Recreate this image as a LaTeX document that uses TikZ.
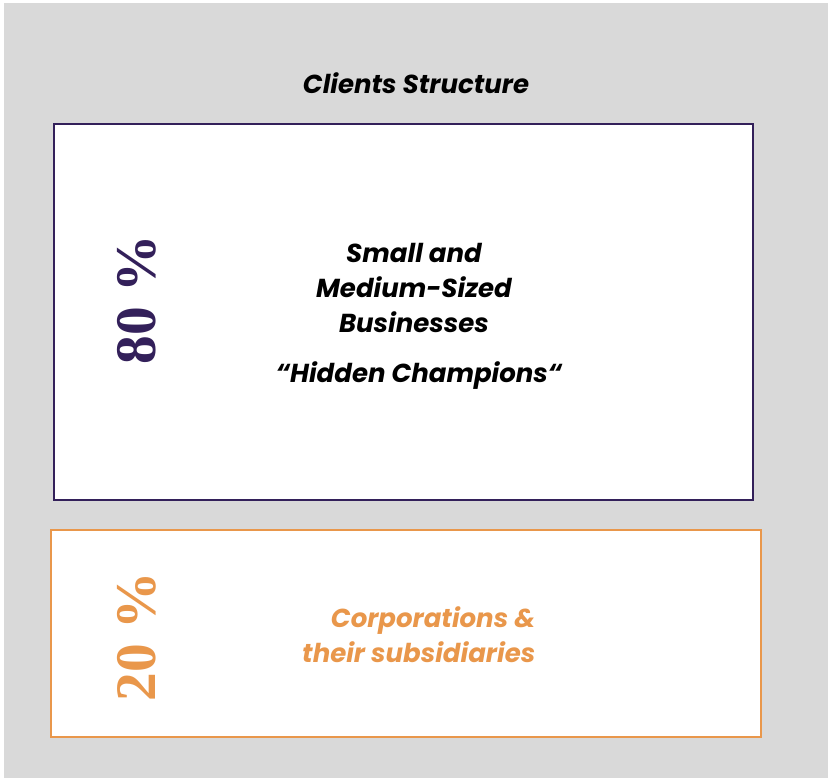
\documentclass[tikz,border=0pt]{standalone}
\usepackage{fontspec}
\setmainfont{Poppins}
\newfontfamily\pctfont{Liberation Serif}
\definecolor{bggray}{HTML}{D9D9D9}
\definecolor{smepurple}{HTML}{33205A}
\definecolor{corporange}{HTML}{E9974B}
\begin{document}
\begin{tikzpicture}[x=0.75pt,y=-0.75pt,
  title/.style={font=\fontsize{19.5}{23}\selectfont\itshape\bfseries},
  label/.style={font=\fontsize{19.5}{26}\selectfont\itshape\bfseries, align=center},
  pct/.style={font=\fontsize{43}{43}\selectfont\pctfont\bfseries, rotate=90}]
\useasboundingbox (0,0) rectangle (828,778);
\fill[bggray] (4,3) rectangle (828,778);
\draw[smepurple, line width=2pt, fill=white] (54,124) rectangle (753,500);
\draw[corporange, line width=2pt, fill=white] (51,530) rectangle (761,737);
\node[title] (title) at (416,83) {Clients Structure};
\node[label] (sme) at (414,288) {Small and\\Medium-Sized\\Businesses};
\node[label] (hc) at (419,376) {``Hidden Champions``};
\node[pct, text=smepurple] (p80) at (137,300) {80 \%};
\node[label, align=right, text=corporange, anchor=east] (corp) at (540,635) {Corporations \&\\their subsidiaries};
\node[pct, text=corporange] (p20) at (137,637) {20 \%};
\end{tikzpicture}
\end{document}
